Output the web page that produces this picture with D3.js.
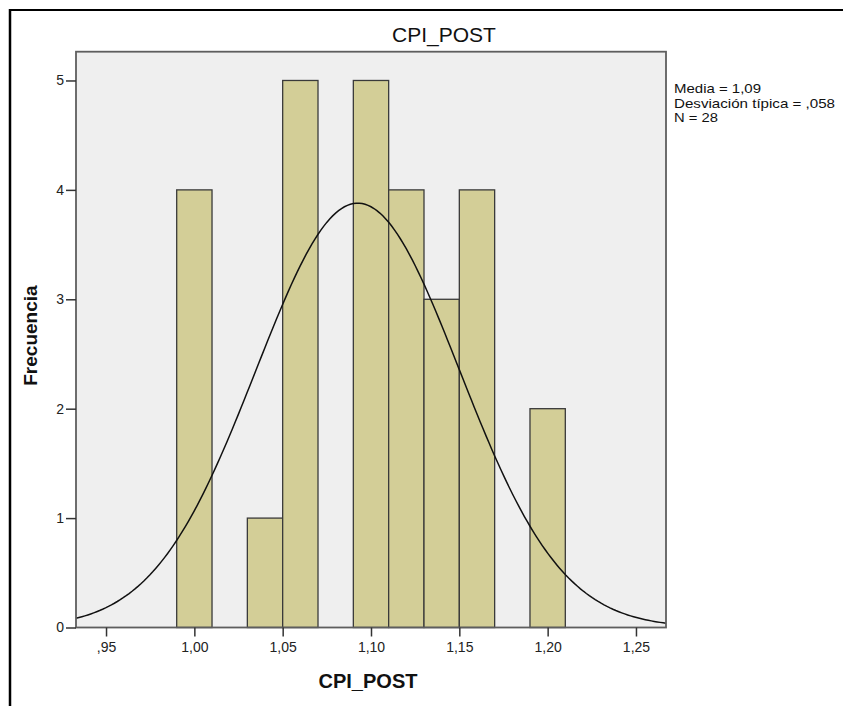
<!DOCTYPE html>
<html>
<head>
<meta charset="utf-8">
<script src="https://cdn.jsdelivr.net/npm/d3@7"></script>
<style>
  body { margin: 0; background: #fff; }
  svg { display: block; font-family: "Liberation Sans", Arial, sans-serif; }
</style>
</head>
<body>
<div id="chart"></div>
<script>
// histogram bins (lower edge, upper edge) and counts
const binStart = [0.99, 1.03, 1.05, 1.09, 1.11, 1.13, 1.15, 1.19];
const binEnd   = [1.01, 1.05, 1.07, 1.11, 1.13, 1.15, 1.17, 1.21];
const counts   = [4, 1, 5, 5, 4, 3, 4, 2];

const xTicks = [0.95, 1.00, 1.05, 1.10, 1.15, 1.20, 1.25];
const xTickLabels = [",95", "1,00", "1,05", "1,10", "1,15", "1,20", "1,25"];
const yTicks = [0, 1, 2, 3, 4, 5];

// summary shown in legend, used for the normal curve
const meanVal = 1.0925;
const sdVal = 0.0576;
const nVal = 28;
const binWidth = 0.02;
const legendLines = ["Media = 1,09", "Desviación típica = ,058", "N = 28"];
const legendWidths = [87, 161, 44];

const width = 843, height = 706;
const plot = {left: 76, right: 666, top: 51.7, bottom: 627.5};

const svg = d3.select("#chart").append("svg")
    .attr("width", width)
    .attr("height", height);

// outer frame (top and left only)
svg.append("line")
    .attr("x1", 9).attr("x2", width).attr("y1", 10).attr("y2", 10)
    .attr("stroke", "#000").attr("stroke-width", 2);
svg.append("line")
    .attr("x1", 10).attr("x2", 10).attr("y1", 9).attr("y2", height)
    .attr("stroke", "#000").attr("stroke-width", 2.5);

const x = d3.scaleLinear()
    .domain([0.933, 1.267])
    .range([plot.left, plot.right]);

const y = d3.scaleLinear()
    .domain([0, 5.263])
    .range([plot.bottom, plot.top]);

const plotG = svg.append("g");

plotG.append("rect")
    .attr("x", plot.left)
    .attr("y", plot.top)
    .attr("width", plot.right - plot.left)
    .attr("height", plot.bottom - plot.top)
    .attr("fill", "#efefef");

const bins = counts.map((c, i) => ({x0: binStart[i], x1: binEnd[i], n: c}));

plotG.append("g")
  .selectAll("rect")
  .data(bins)
  .join("rect")
    .attr("x", d => x(d.x0))
    .attr("y", d => y(d.n))
    .attr("width", d => x(d.x1) - x(d.x0))
    .attr("height", d => y(0) - y(d.n))
    .attr("fill", "#d3ce97")
    .attr("stroke", "#3a3a3a")
    .attr("stroke-width", 1.3);

// normal curve from mean / sd
const curveX = d3.range(0, 201).map(i => 0.933 + (1.267 - 0.933) * i / 200);
const dens = v => nVal * binWidth / (sdVal * Math.sqrt(2 * Math.PI)) *
    Math.exp(-0.5 * Math.pow((v - meanVal) / sdVal, 2));

plotG.append("path")
    .datum(curveX)
    .attr("fill", "none")
    .attr("stroke", "#111")
    .attr("stroke-width", 1.5)
    .attr("d", d3.line().x(d => x(d)).y(d => y(dens(d))));

// plot border
plotG.append("rect")
    .attr("x", plot.left)
    .attr("y", plot.top)
    .attr("width", plot.right - plot.left)
    .attr("height", plot.bottom - plot.top)
    .attr("fill", "none")
    .attr("stroke", "#5e5e5e")
    .attr("stroke-width", 1.8);

// axes
svg.append("g")
    .attr("transform", `translate(0,${plot.bottom})`)
    .call(d3.axisBottom(x)
      .tickValues(xTicks)
      .tickFormat((d, i) => xTickLabels[i])
      .tickSize(9)
      .tickPadding(6))
    .call(g => g.select(".domain").remove())
    .call(g => g.selectAll(".tick line").attr("stroke", "#333").attr("stroke-width", 1.5))
    .call(g => g.selectAll(".tick text")
      .attr("fill", "#222")
      .attr("font-size", 14)
      .attr("font-family", "Liberation Sans, Arial, sans-serif"));

svg.append("g")
    .attr("transform", `translate(${plot.left},0)`)
    .call(d3.axisLeft(y)
      .tickValues(yTicks)
      .tickFormat(d3.format("d"))
      .tickSize(10)
      .tickPadding(2))
    .call(g => g.select(".domain").remove())
    .call(g => g.selectAll(".tick line").attr("stroke", "#333").attr("stroke-width", 1.5))
    .call(g => g.selectAll(".tick text")
      .attr("fill", "#222")
      .attr("font-size", 14)
      .attr("font-family", "Liberation Sans, Arial, sans-serif"));

// titles
svg.append("text")
    .attr("x", 444)
    .attr("y", 42)
    .attr("text-anchor", "middle")
    .attr("font-size", 21)
    .attr("fill", "#111")
    .text("CPI_POST");

svg.append("text")
    .attr("x", (plot.left + plot.right) / 2 - 3)
    .attr("y", 688)
    .attr("text-anchor", "middle")
    .attr("font-size", 20)
    .attr("font-weight", "bold")
    .attr("fill", "#111")
    .text("CPI_POST");

svg.append("text")
    .attr("transform", `translate(37,${(plot.top + plot.bottom) / 2 - 4}) rotate(-90)`)
    .attr("text-anchor", "middle")
    .attr("font-size", 19)
    .attr("font-weight", "bold")
    .attr("fill", "#111")
    .text("Frecuencia");

// legend: tight lines, stretched a little to the reference width
svg.append("g")
  .selectAll("text")
  .data(legendLines)
  .join("text")
    .attr("x", 674)
    .attr("y", (d, i) => 93 + i * 14.5)
    .attr("font-size", 12.6)
    .attr("textLength", (d, i) => legendWidths[i])
    .attr("lengthAdjust", "spacingAndGlyphs")
    .attr("fill", "#111")
    .text(d => d);
</script>
</body>
</html>
